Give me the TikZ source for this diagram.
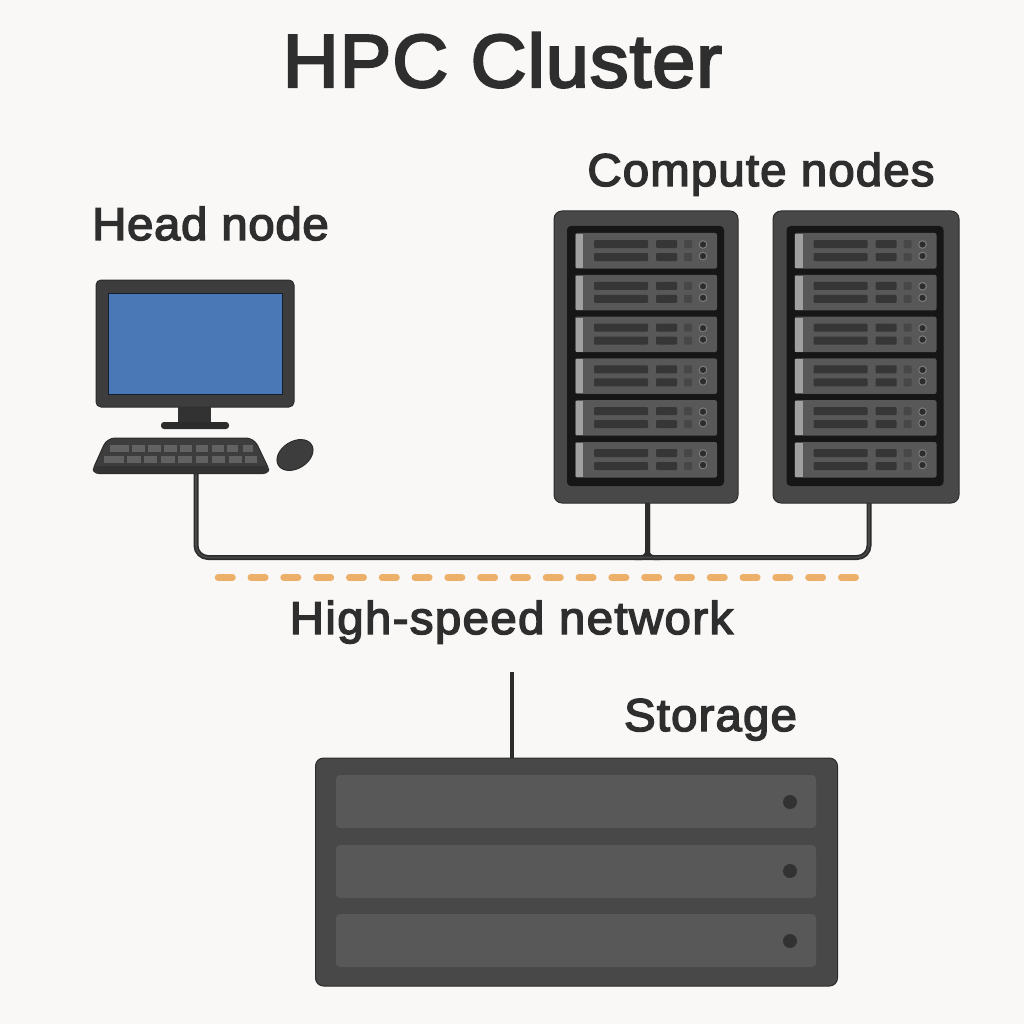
\documentclass[tikz,border=0pt]{standalone}
\usepackage{fontspec}
\setmainfont{Liberation Sans}[FakeBold=3.2,FakeStretch=1.03,LetterSpace=1.5]
\newfontfamily\widefont{Liberation Sans}[FakeBold=3.2,FakeStretch=1.03,LetterSpace=2.5]
\newfontfamily\widerfont{Liberation Sans}[FakeBold=3.2,FakeStretch=1.03,LetterSpace=3]
\usetikzlibrary{calc}
\definecolor{bg}{HTML}{F9F8F6}
\definecolor{txt}{HTML}{2E2E2E}
\definecolor{casing}{HTML}{484848}
\definecolor{dark}{HTML}{3D3D3D}
\definecolor{edge}{HTML}{2C2C2C}
\definecolor{blackin}{HTML}{161616}
\definecolor{unit}{HTML}{585858}
\definecolor{strip}{HTML}{A0A0A0}
\definecolor{slot}{HTML}{363636}
\definecolor{sq}{HTML}{474747}
\definecolor{ring}{HTML}{7C7C7C}
\definecolor{key}{HTML}{626262}
\definecolor{scr}{HTML}{4A77B6}
\definecolor{dashc}{HTML}{EDB06B}
\tikzset{
 x=1pt,y=-1pt,
 label text/.style={text=txt,inner sep=0pt,anchor=base,font=\fontsize{46}{50}\selectfont},
 title text/.style={text=txt,inner sep=0pt,anchor=base,font=\fontsize{75}{80}\selectfont},
 case/.style={fill=casing,draw=edge,line width=1pt,rounded corners=8pt,inner sep=0pt},
 cable/.style={draw=edge,line width=5pt,rounded corners=12pt},
 cablecore/.style={draw=casing,line width=1.6pt,rounded corners=12pt},
}
\newcommand{\rackunit}[2]{% x offset, top y
 \fill[unit,rounded corners=2pt] (#1+575,#2) rectangle (#1+717,#2+35.5);
 \fill[strip] (#1+575.5,#2+1) rectangle (#1+583,#2+35);
 \fill[slot,rounded corners=1pt] (#1+594,#2+7) rectangle (#1+648,#2+15);
 \fill[slot,rounded corners=1pt] (#1+594,#2+20) rectangle (#1+648,#2+28);
 \fill[slot,rounded corners=1pt] (#1+656,#2+7) rectangle (#1+677,#2+15);
 \fill[slot,rounded corners=1pt] (#1+656,#2+20) rectangle (#1+677,#2+28);
 \fill[sq,rounded corners=1pt] (#1+684,#2+7) rectangle (#1+692,#2+15);
 \fill[sq,rounded corners=1pt] (#1+684,#2+20) rectangle (#1+692,#2+28);
 \filldraw[fill=edge,draw=ring,line width=1pt] (#1+703,#2+11.5) circle (3.8);
 \filldraw[fill=edge,draw=ring,line width=1pt] (#1+703,#2+23) circle (3.8);
}
\newcommand{\rackbody}[1]{%
 \fill[blackin,rounded corners=4pt] (#1+567,226) rectangle (#1+724,486);
 \foreach \i in {0,...,5} {\pgfmathsetmacro{\yy}{233+41.8*\i}\rackunit{#1}{\yy}}
}
\begin{document}
\begin{tikzpicture}
\useasboundingbox (0,0) rectangle (1024,1024);
\fill[bg] (0,0) rectangle (1024,1024);
% titles
\node[title text] (title) at (502.5,87) {HPC Cluster};
\node[label text] (headlbl) at (210.5,240) {Head node};
\node[label text] (complbl) at (761,186) {\widefont Compute nodes};
\node[label text] (netlbl) at (511.5,634) {\widerfont High-speed network};
\node[label text] (storlbl) at (710.5,731) {\widefont Storage};
% connector anchors
\coordinate (dropK) at (196,472);
\coordinate (dropA) at (647.5,502);
\coordinate (dropB) at (869,502);
\coordinate (busA) at (647.5,557.5);
\coordinate (filL) at (635,557.5);
\coordinate (filR) at (660,557.5);
\coordinate (antTop) at (512,672);
\coordinate (antBot) at (512,759);
% cables
\draw[cable] (dropK) |- (busA) -| (dropB);
\draw[cable,rounded corners=6pt] (dropA) |- (filL);
\draw[cable,rounded corners=6pt] (dropA) |- (filR);
\draw[cablecore] (dropK) |- (busA) -| (dropB);
\draw[edge,line width=3.6pt] (antTop) -- (antBot);
% network dashes
\coordinate (dashL) at (218,577.5);
\coordinate (dashR) at (858,577.5);
\draw[dashc,line width=6.5pt,line cap=round,dash pattern=on 14.5pt off 18.3pt] (dashL) -- (dashR);
% compute racks
\node[case,minimum width=184pt,minimum height=292pt] (rackA) at (646,357) {};
\node[case,minimum width=186pt,minimum height=292pt] (rackB) at (866,357) {};
\rackbody{0}
\rackbody{219.5}
% monitor
\node[case,fill=dark,minimum width=198pt,minimum height=127pt,rounded corners=5pt] (monitor) at (195,343.5) {};
\fill[scr,draw=black!75!scr,line width=1pt] (108,293) rectangle (282,394);
\fill[edge!80!casing] (178,407) rectangle (211,423);
\fill[edge,rounded corners=3pt] (161,422) rectangle (229,429);
% keyboard
\node[inner sep=0pt,minimum width=178pt,minimum height=36pt] (kbd) at (181,456) {};
\filldraw[fill=dark,draw=edge,line width=1pt,rounded corners=8pt] (107,438) -- (254,438) -- (271,473.5) -- (91,473.5) -- cycle;
\fill[edge!60!dark,rounded corners=4pt] (93.5,466) -- (268.5,466) -- (270,472.8) -- (92,472.8) -- cycle;
\foreach \a/\b in {110/129,132/145,148/161,164/177,180/192,196/208,212/224,227/238,243/253}
 \fill[key] (\a,445) rectangle (\b,452);
\foreach \a/\b in {104/124,127/141,144/157,161/175,178/192,196/208,212/225,229/242,245/257}
 \fill[key] (\a,456) rectangle (\b,462.5);
% mouse
\filldraw[fill=dark,draw=edge,line width=1pt,rotate around={32:(295,455)}] (295,455) ellipse (19.5 and 13.5);
% storage
\node[case,minimum width=522pt,minimum height=228pt] (storage) at (576.5,872) {};
\foreach \t/\c in {775/802,845/871,914/941}{
 \fill[unit,rounded corners=4pt] (336,\t) rectangle (816,\t+53);
 \fill[edge!80!casing] (790,\c) circle (7);
}
\end{tikzpicture}
\end{document}
